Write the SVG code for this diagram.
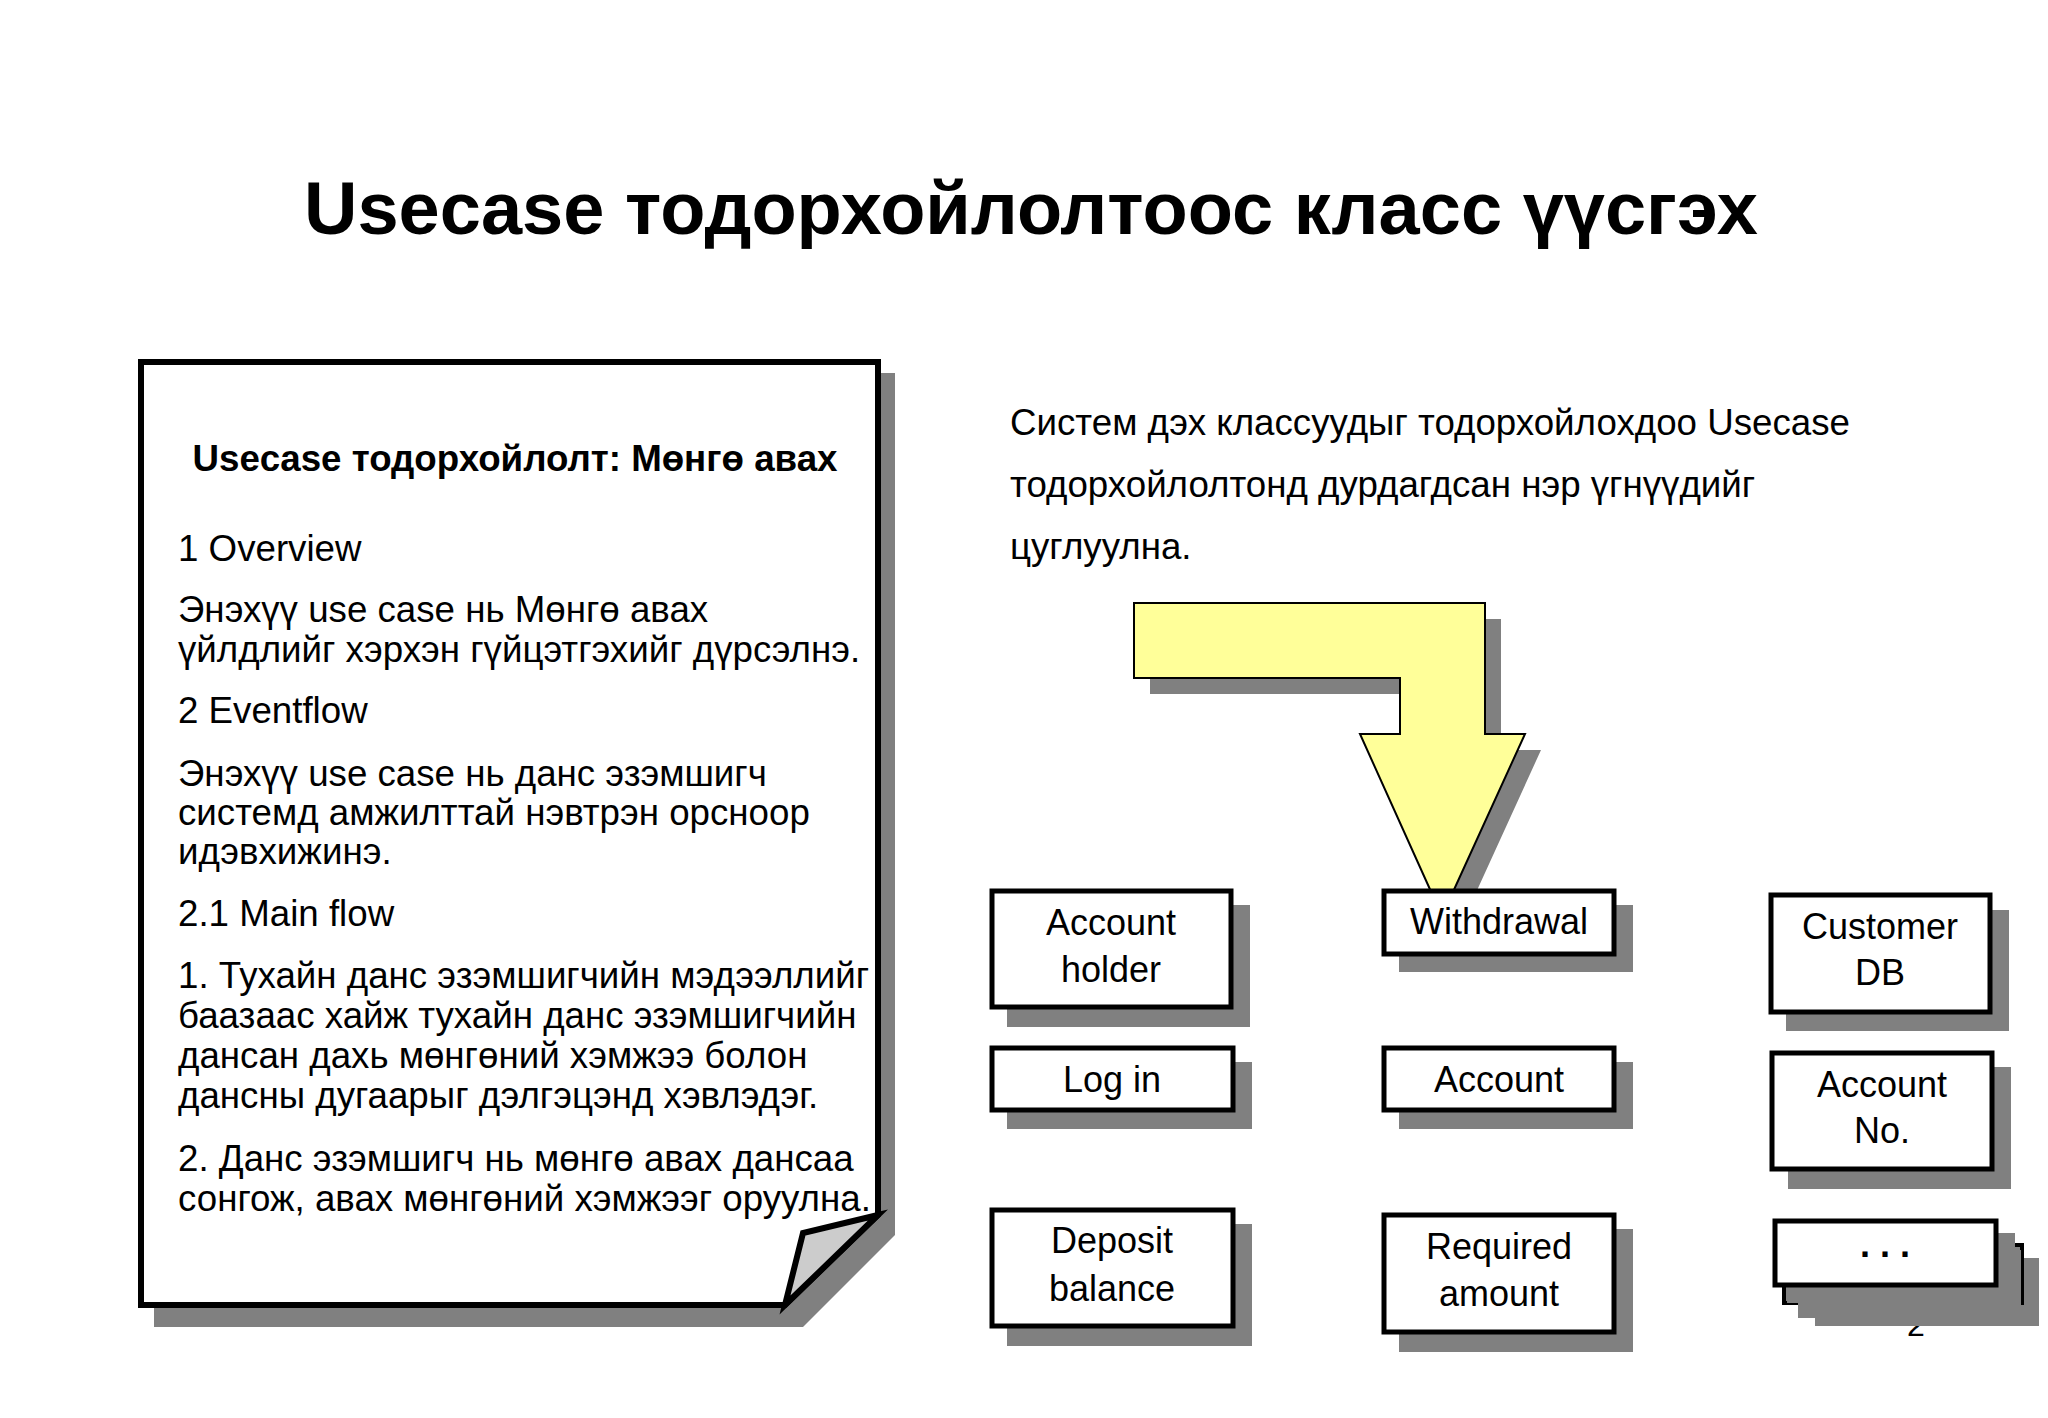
<svg xmlns="http://www.w3.org/2000/svg" width="2048" height="1418" viewBox="0 0 2048 1418">
<style>
text{font-family:"Liberation Sans",Arial,sans-serif;fill:#000}
.t{font-size:36.7px}
.c{font-size:36px;text-anchor:middle}
.b{font-weight:bold}
.sh{fill:#808080;stroke:none}
.box{fill:#fff;stroke:#000;stroke-width:5}
</style>
<rect width="2048" height="1418" fill="#fff"/>
<text x="1031" y="234" class="b" style="font-size:74px;text-anchor:middle">Usecase тодорхойлолтоос класс үүсгэх</text>

<g id="usecase-doc">
<polygon class="sh" points="154,373 895,373 895,1235 803,1327 154,1327"/>
<polygon points="141,362 878,362 878,1215 785,1305 141,1305" fill="#fff" stroke="#000" stroke-width="6" stroke-linejoin="miter"/>
<polygon points="878,1215 803,1233 785,1305" fill="#ccc" stroke="#000" stroke-width="6" stroke-linejoin="miter"/>
<text x="515" y="471" class="b" style="font-size:36.7px;text-anchor:middle">Usecase тодорхойлолт: Мөнгө авах</text>
<text x="178" y="561" class="t">1 Overview</text>
<text x="178" y="622" class="t">Энэхүү use case нь Мөнгө авах</text>
<text x="178" y="662" class="t">үйлдлийг хэрхэн гүйцэтгэхийг дүрсэлнэ.</text>
<text x="178" y="723" class="t">2 Eventflow</text>
<text x="178" y="786" class="t">Энэхүү use case нь данс эзэмшигч</text>
<text x="178" y="825" class="t">системд амжилттай нэвтрэн орсноор</text>
<text x="178" y="864" class="t">идэвхижинэ.</text>
<text x="178" y="926" class="t">2.1 Main flow</text>
<text x="178" y="988" class="t">1. Тухайн данс эзэмшигчийн мэдээллийг</text>
<text x="178" y="1028" class="t">баазаас хайж тухайн данс эзэмшигчийн</text>
<text x="178" y="1068" class="t">дансан дахь мөнгөний хэмжээ болон</text>
<text x="178" y="1108" class="t">дансны дугаарыг дэлгэцэнд хэвлэдэг.</text>
<text x="178" y="1171" class="t">2. Данс эзэмшигч нь мөнгө авах дансаа</text>
<text x="178" y="1211" class="t">сонгож, авах мөнгөний хэмжээг оруулна.</text>
</g>

<g id="note">
<text x="1010" y="435" class="t">Систем дэх классуудыг тодорхойлохдоо Usecase</text>
<text x="1010" y="497" class="t">тодорхойлолтонд дурдагдсан нэр үгнүүдийг</text>
<text x="1010" y="559" class="t">цуглуулна.</text>
</g>

<g id="connectors">
<polygon class="sh" points="1150,619 1501,619 1501,750 1541,750 1458,932 1376,750 1416,750 1416,694 1150,694"/>
<polygon points="1134,603 1485,603 1485,734 1525,734 1442,916 1360,734 1400,734 1400,678 1134,678" fill="#ffff99" stroke="#000" stroke-width="2"/>
</g>

<g id="account-holder">
<rect class="sh" x="1007" y="905" width="243" height="122"/>
<rect class="box" x="992" y="891" width="239" height="116"/>
<text x="1111" y="935" class="c">Account</text>
<text x="1111" y="982" class="c">holder</text>
</g>
<g id="withdrawal">
<rect class="sh" x="1399" y="905" width="234" height="67"/>
<rect class="box" x="1384" y="891" width="230" height="63"/>
<text x="1499" y="934" class="c">Withdrawal</text>
</g>
<g id="customer-db">
<rect class="sh" x="1786" y="910" width="223" height="121"/>
<rect class="box" x="1771" y="895" width="219" height="117"/>
<text x="1880" y="939" class="c">Customer</text>
<text x="1880" y="985" class="c">DB</text>
</g>
<g id="log-in">
<rect class="sh" x="1007" y="1062" width="245" height="67"/>
<rect class="box" x="992" y="1048" width="241" height="62"/>
<text x="1112" y="1092" class="c">Log in</text>
</g>
<g id="account">
<rect class="sh" x="1399" y="1062" width="234" height="67"/>
<rect class="box" x="1384" y="1048" width="230" height="62"/>
<text x="1499" y="1092" class="c">Account</text>
</g>
<g id="account-no">
<rect class="sh" x="1788" y="1067" width="223" height="122"/>
<rect class="box" x="1772" y="1053" width="220" height="116"/>
<text x="1882" y="1097" class="c">Account</text>
<text x="1882" y="1143" class="c">No.</text>
</g>
<g id="deposit-balance">
<rect class="sh" x="1007" y="1224" width="245" height="122"/>
<rect class="box" x="992" y="1210" width="241" height="116"/>
<text x="1112" y="1253" class="c">Deposit</text>
<text x="1112" y="1301" class="c">balance</text>
</g>
<g id="required-amount">
<rect class="sh" x="1399" y="1229" width="234" height="123"/>
<rect class="box" x="1384" y="1215" width="230" height="117"/>
<text x="1499" y="1259" class="c">Required</text>
<text x="1499" y="1306" class="c">amount</text>
</g>

<text x="1916" y="1336" style="font-size:32px;text-anchor:middle">2</text>

<g id="more">
<rect class="sh" x="1815" y="1258" width="224" height="68"/>
<rect x="1784" y="1245" width="238" height="58" fill="#808080" stroke="#000" stroke-width="4"/>
<rect class="sh" x="1798" y="1250" width="223" height="68"/>
<rect class="sh" x="1787" y="1233" width="228" height="70"/>
<rect class="box" x="1775" y="1221" width="221" height="64"/>
<text x="1885" y="1257" class="b" style="font-size:36px;text-anchor:middle">. . .</text>
</g>
</svg>
